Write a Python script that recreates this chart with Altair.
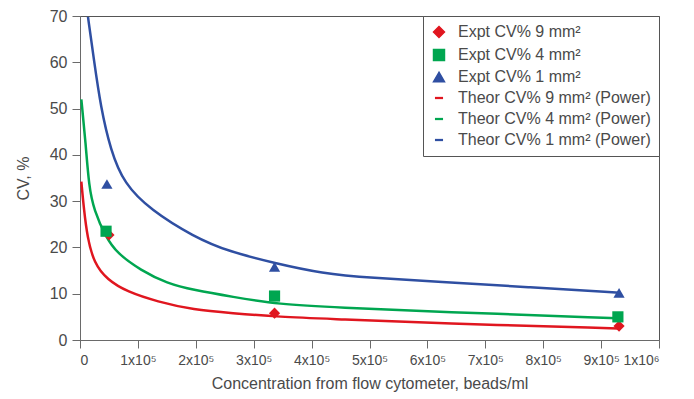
import altair as alt
import pandas as pd

# Experimental points
expt_x = [50000, 336000, 931000]
expt_9 = [22.7, 5.8, 3.0]
expt_4_x = [45000, 336000, 929000]
expt_4 = [23.5, 9.5, 5.0]
expt_1_x = [46500, 336000, 931000]
expt_1 = [33.7, 15.8, 10.2]

# Theoretical curves
th1_x = [13800, 24100, 35700, 52900, 75900, 121900, 196500, 257000, 337000, 417000, 504000, 619000, 774000, 932000]
th1_y = [69.8, 60.5, 50.4, 41.0, 33.8, 28.1, 22.3, 19.1, 16.6, 14.4, 13.4, 12.6, 11.4, 10.2]
th4_x = [2300, 9800, 15500, 24100, 44300, 64300, 104600, 150500, 196500, 262000, 343000, 446500, 619000, 929000]
th4_y = [52.0, 42.5, 33.1, 28.1, 22.3, 18.7, 15.1, 12.2, 10.8, 9.35, 7.7, 7.0, 6.1, 4.7]
th9_x = [2300, 6900, 12600, 24100, 47100, 81600, 133300, 196500, 262000, 343000, 446500, 619000, 929000]
th9_y = [34.2, 28.1, 22.3, 16.6, 13.0, 10.4, 8.3, 6.5, 5.8, 5.0, 4.5, 3.6, 2.5]

labels = ["Expt CV% 9 mm²", "Expt CV% 4 mm²", "Expt CV% 1 mm²",
          "Theor CV% 9 mm² (Power)", "Theor CV% 4 mm² (Power)", "Theor CV% 1 mm² (Power)"]
RED, GREEN, BLUE = "#e0161f", "#00a650", "#2f4fa2"
colors = [RED, GREEN, BLUE, RED, GREEN, BLUE]
line_shape = "M-0.6,-0.07H0.6V0.07H-0.6Z"
shapes = ["diamond", "square", "triangle-up", line_shape, line_shape, line_shape]

pts = pd.DataFrame(
    [dict(x=a, y=b, s=labels[0]) for a, b in zip(expt_x, expt_9)]
    + [dict(x=a, y=b, s=labels[1]) for a, b in zip(expt_4_x, expt_4)]
    + [dict(x=a, y=b, s=labels[2]) for a, b in zip(expt_1_x, expt_1)]
)
lines = pd.DataFrame(
    [dict(x=a, y=b, s=labels[3]) for a, b in zip(th9_x, th9_y)]
    + [dict(x=a, y=b, s=labels[4]) for a, b in zip(th4_x, th4_y)]
    + [dict(x=a, y=b, s=labels[5]) for a, b in zip(th1_x, th1_y)]
)

FONT = "Liberation Sans"
TXT = "#4a4a4a"
AX = "#6a6a6a"

xenc = alt.X("x:Q", scale=alt.Scale(domain=[0, 1000000], nice=False),
             axis=alt.Axis(values=[i * 100000 for i in range(11)], labelOverlap=False,
                           labelExpr="datum.value == 0 ? '0' : datum.value == 1000000 ? '1x10⁶' : format(datum.value/100000, 'd') + 'x10⁵'",
                           title="Concentration from flow cytometer, beads/ml"))
yenc = alt.Y("y:Q", scale=alt.Scale(domain=[0, 70], nice=False),
             axis=alt.Axis(values=list(range(0, 71, 10)), title="CV, %"))
color = alt.Color("s:N", scale=alt.Scale(domain=labels, range=colors),
                  legend=alt.Legend(title=None, orient="top-right", offset=0,
                                    strokeColor="#555555", fillColor="white",
                                    padding=8, labelFontSize=16, labelColor=TXT,
                                    labelFont=FONT, rowPadding=5, symbolSize=120,
                                    labelOffset=11, labelLimit=300))
shape = alt.Shape("s:N", scale=alt.Scale(domain=labels, range=shapes))

line_layer = alt.Chart(lines).mark_line(strokeWidth=2.5, interpolate="basis").encode(
    x=xenc, y=yenc, color=color, detail="s:N")
pt_layer = alt.Chart(pts).mark_point(filled=True, size=125, opacity=1).encode(
    x=xenc, y=yenc, color=color, shape=shape)

chart = (line_layer + pt_layer).properties(
    width=579, height=324,
    padding={"left": 7, "top": 0, "right": 5, "bottom": 5}
).configure_view(
    stroke="#555555", strokeWidth=1
).configure_axis(
    grid=False, domainColor=AX, tickColor=AX, tickSize=8, labelFont=FONT, titleFont=FONT,
    labelFontSize=16, titleFontSize=16, labelColor=TXT, titleColor=TXT, titleFontWeight="normal",
    labelPadding=5
).configure_axisY(titlePadding=18).configure_axisX(titlePadding=8, labelFontSize=14)

chart.save("out.html", embed_options={"renderer": "svg", "actions": False})
